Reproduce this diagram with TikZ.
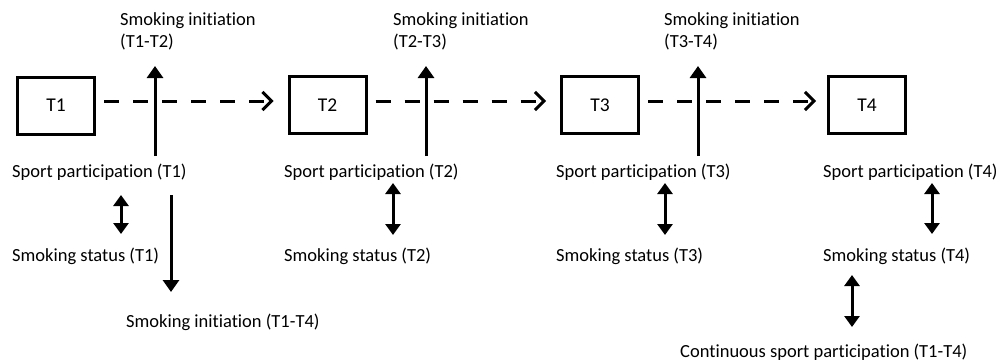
\documentclass[tikz,border=0pt]{standalone}
\usepackage{fontspec}
\setmainfont{Carlito}[Ligatures=NoCommon]
\usetikzlibrary{arrows.meta}
\begin{document}
\begin{tikzpicture}[x=1pt,y=-1pt,
  tbox/.style={draw,line width=3pt,minimum width=77pt,minimum height=57pt,inner sep=0pt,font=\fontsize{19.5}{23}\selectfont},
  lbl/.style={anchor=base west,inner sep=0pt,font=\fontsize{18.5}{22}\selectfont},
  lbl2/.style={anchor=north west,inner sep=0pt,align=left,font=\fontsize{18.5}{22}\selectfont},
  dasharrow/.style={line width=3pt,dash pattern=on 15pt off 14pt,-{Straight Barb[length=9pt,width=18pt]}},
  solidarrow/.style={line width=3pt,-{Triangle[length=12pt,width=16pt]}},
  dblarrow/.style={line width=3pt,{Triangle[length=11pt,width=15pt]}-{Triangle[length=11pt,width=15pt]}}]
\useasboundingbox (0,0) rectangle (998,362);

% time-point boxes
\node[tbox] (T1) at (56,105.5) {T1};
\node[tbox] (T2) at (327.5,105) {T2};
\node[tbox] (T3) at (600,105) {T3};
\node[tbox] (T4) at (867,105) {T4};

% labels
\node[lbl2] (si12) at (120,12) {Smoking initiation\\(T1-T2)};
\node[lbl2] (si23) at (393,12) {Smoking initiation\\(T2-T3)};
\node[lbl2] (si34) at (664,12) {Smoking initiation\\(T3-T4)};

\node[lbl] (sp1) at (12,177) {Sport participation (T1)};
\node[lbl] (sp2) at (284,177) {Sport participation (T2)};
\node[lbl] (sp3) at (556,177) {Sport participation (T3)};
\node[lbl] (sp4) at (823,177) {Sport participation (T4)};

\node[lbl] (ss1) at (12,261) {Smoking status (T1)};
\node[lbl] (ss2) at (284,261) {Smoking status (T2)};
\node[lbl] (ss3) at (556,261) {Smoking status (T3)};
\node[lbl] (ss4) at (823,261) {Smoking status (T4)};

\node[lbl] (si14) at (126,327) {Smoking initiation (T1-T4)};
\node[lbl] (cont) at (680,357) {Continuous sport participation (T1-T4)};

% dashed transitions
\draw[dasharrow] ([xshift=8pt,yshift=4.5pt]T1.east) -- ([xshift=-14pt,yshift=4pt]T2.west);
\draw[dasharrow] ([xshift=8pt,yshift=4pt]T2.east) -- ([xshift=-14pt,yshift=4pt]T3.west);
\draw[dasharrow] ([xshift=8pt,yshift=4pt]T3.east) -- ([xshift=-11pt,yshift=4pt]T4.west);

% vertical arrows from sport participation to smoking initiation
\coordinate (u1a) at (155,156); \coordinate (u1b) at (155,66);
\coordinate (u2a) at (426,156); \coordinate (u2b) at (426,66);
\coordinate (u3a) at (698,156); \coordinate (u3b) at (698,66);
\draw[solidarrow] (u1a) -- (u1b);
\draw[solidarrow] (u2a) -- (u2b);
\draw[solidarrow] (u3a) -- (u3b);

% double arrows sport participation <-> smoking status
\coordinate (d1a) at (121,195); \coordinate (d1b) at (121,234);
\coordinate (d2a) at (393,183); \coordinate (d2b) at (393,235);
\coordinate (d3a) at (665,183); \coordinate (d3b) at (665,235);
\coordinate (d4a) at (932,183); \coordinate (d4b) at (932,234);
\draw[dblarrow] (d1a) -- (d1b);
\draw[dblarrow] (d2a) -- (d2b);
\draw[dblarrow] (d3a) -- (d3b);
\draw[dblarrow] (d4a) -- (d4b);

% down arrow to smoking initiation (T1-T4)
\coordinate (e1a) at (171,195); \coordinate (e1b) at (171,292);
\draw[solidarrow] (e1a) -- (e1b);

% smoking status (T4) <-> continuous sport participation
\coordinate (c1a) at (852,275); \coordinate (c1b) at (852,327);
\draw[dblarrow] (c1a) -- (c1b);
\end{tikzpicture}
\end{document}
